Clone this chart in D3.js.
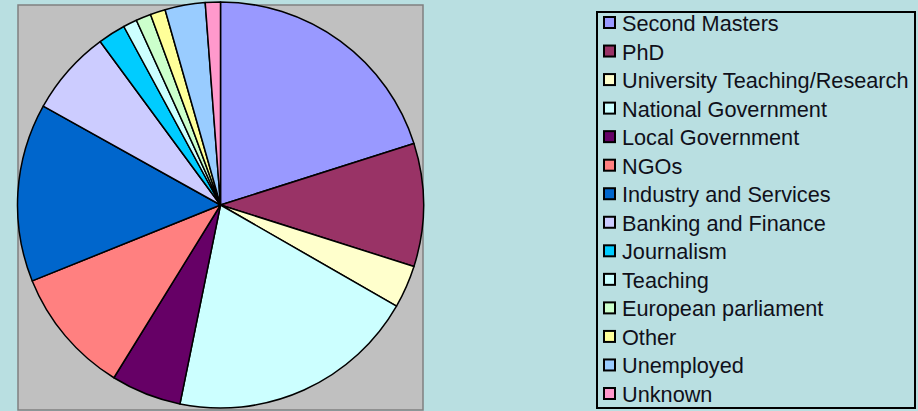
<!DOCTYPE html>
<html>
<head>
<meta charset="utf-8">
<script src="https://cdn.jsdelivr.net/npm/d3@7"></script>
<style>
  body { margin: 0; background: #b9dfe1; }
  svg { display: block; }
  .legend text { font-family: "Liberation Sans", Arial, sans-serif; font-size: 21.7px; fill: #10101a; }
</style>
</head>
<body>
<svg id="chart" width="918" height="411"></svg>
<script>
// categories and their shares (%)
var categories = ["Second Masters", "PhD", "University Teaching/Research", "National Government",
    "Local Government", "NGOs", "Industry and Services", "Banking and Finance", "Journalism",
    "Teaching", "European parliament", "Other", "Unemployed", "Unknown"];
var shares = [20.1, 9.8, 3.4, 19.9, 5.6, 10.1, 14.2, 6.8, 2.2, 1.1, 1.2, 1.2, 3.2, 1.2];
var colors = ["#9999ff", "#993366", "#ffffcc", "#ccffff", "#660066", "#ff8080", "#0066cc",
    "#ccccff", "#00ccff", "#ccffff", "#ccffcc", "#ffff99", "#99ccff", "#ff99cc"];

var svg = d3.select("#chart");

// grey plot area
svg.append("rect")
    .attr("x", 18).attr("y", 5)
    .attr("width", 405).attr("height", 405)
    .attr("fill", "#c0c0c0")
    .attr("stroke", "#808080")
    .attr("stroke-width", 1.5);

var data = categories.map(function(c, i) { return { name: c, value: shares[i], color: colors[i] }; });

var pie = d3.pie().sort(null).value(function(d) { return d.value; });
var arc = d3.arc().innerRadius(0).outerRadius(203);

var g = svg.append("g").attr("transform", "translate(220.5,205)");

g.selectAll("path")
    .data(pie(data))
    .enter()
    .append("path")
    .attr("d", arc)
    .attr("fill", function(d) { return d.data.color; })
    .attr("stroke", "#000")
    .attr("stroke-width", 1.5)
    .attr("stroke-linejoin", "round");

// legend
var legend = svg.append("g").attr("class", "legend");
legend.append("rect")
    .attr("x", 597).attr("y", 12)
    .attr("width", 318).attr("height", 396)
    .attr("fill", "none")
    .attr("stroke", "#000")
    .attr("stroke-width", 2);

var rowY = d3.scaleLinear().domain([0, categories.length - 1]).range([23, 394]);

var item = legend.selectAll("g.item")
    .data(data)
    .enter()
    .append("g")
    .attr("class", "item")
    .attr("transform", function(d, i) { return "translate(0," + rowY(i) + ")"; });

item.append("rect")
    .attr("x", 604).attr("y", -6)
    .attr("width", 11).attr("height", 11)
    .attr("fill", function(d) { return d.color; })
    .attr("stroke", "#000")
    .attr("stroke-width", 2);

item.append("text")
    .attr("x", 622)
    .attr("y", 8)
    .text(function(d) { return d.name; });
</script>
</body>
</html>
